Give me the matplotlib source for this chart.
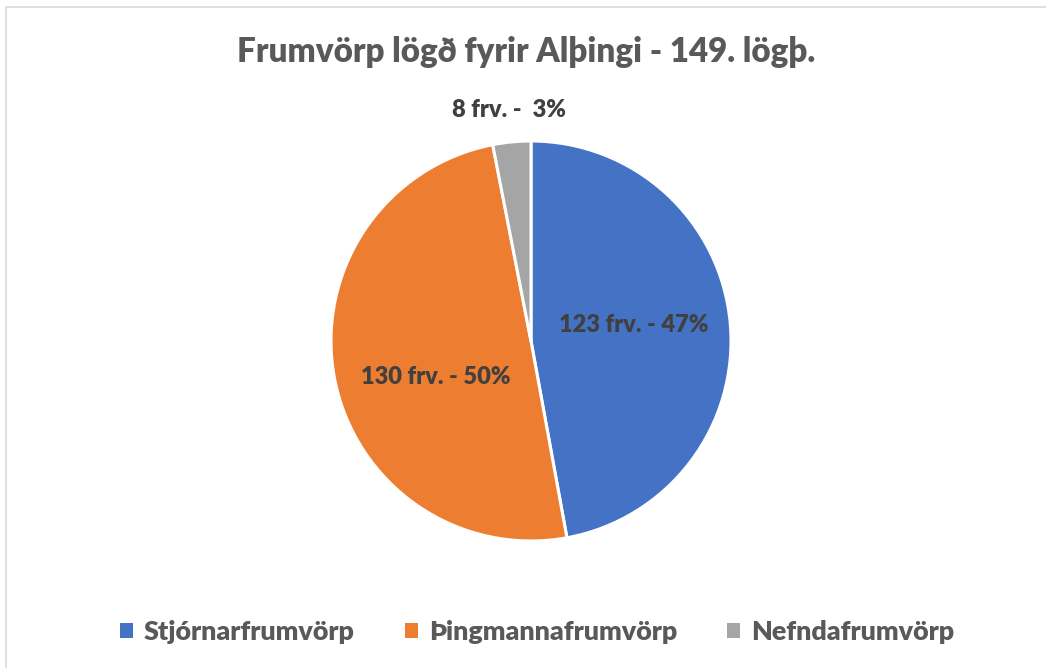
import matplotlib.pyplot as plt
import numpy as np
from matplotlib.patches import Patch, Rectangle

# data
categories = ['Stjórnarfrumvörp', 'Þingmannafrumvörp', 'Nefndafrumvörp']
counts = [123, 130, 8]
data_labels = ['123 frv. - 47%', '130 frv. - 50%', '8 frv. -  3%']
colors = ['#4472C4', '#ED7D31', '#A5A5A5']
# label placement (distance from centre, angle nudge in degrees)
label_dist = [0.52, 0.51, 1.16]
label_shift = [3.7, 10.2, 0.0]

plt.rcParams['font.family'] = ['Lato', 'DejaVu Sans']
plt.rcParams['font.weight'] = 'heavy'

fig = plt.figure(figsize=(10.46, 6.68), dpi=100)

# light grey chart frame (cut off at right and bottom like the screenshot)
fig.patches.append(Rectangle((6 / 1046, -0.01), 1.1, (668 - 7) / 668 + 0.01,
                             transform=fig.transFigure, fill=False,
                             edgecolor='#D9D9D9', linewidth=1.2))

# pie axes: centre ~ (531, 341) px, radius ~200 px
cx, cy, r = 531 / 1046, (668 - 341) / 668, 200
ax = fig.add_axes([cx - r / 1046, cy - r / 668, 2 * r / 1046, 2 * r / 668])
wedges, _ = ax.pie(counts, colors=colors, startangle=90, counterclock=False,
                   wedgeprops=dict(edgecolor='white', linewidth=2.2))
ax.set_xlim(-1, 1)
ax.set_ylim(-1, 1)
ax.set_aspect('auto')

for w, txt, d, s in zip(wedges, data_labels, label_dist, label_shift):
    ang = np.deg2rad((w.theta1 + w.theta2) / 2 + s)
    ax.text(d * np.cos(ang), d * np.sin(ang), txt, ha='center', va='center',
            fontsize=17, fontweight='heavy', color='#404040')

fig.text(526 / 1046, 1 - 52 / 668, 'Frumvörp lögð fyrir Alþingi - 149. lögþ.',
         ha='center', va='center', fontsize=23.9, fontweight='heavy', color='#595959')

handles = [Patch(facecolor=c, edgecolor='none') for c in colors]
leg = fig.legend(handles, categories, loc='center', ncol=3,
                 bbox_to_anchor=(537 / 1046, 1 - 632 / 668), frameon=False,
                 fontsize=19.4, handlelength=0.5, handleheight=0.5,
                 handletextpad=0.4, columnspacing=1.85)
for t in leg.get_texts():
    t.set_color('#595959')
    t.set_fontweight('heavy')

fig.savefig('out.png', dpi=100)
